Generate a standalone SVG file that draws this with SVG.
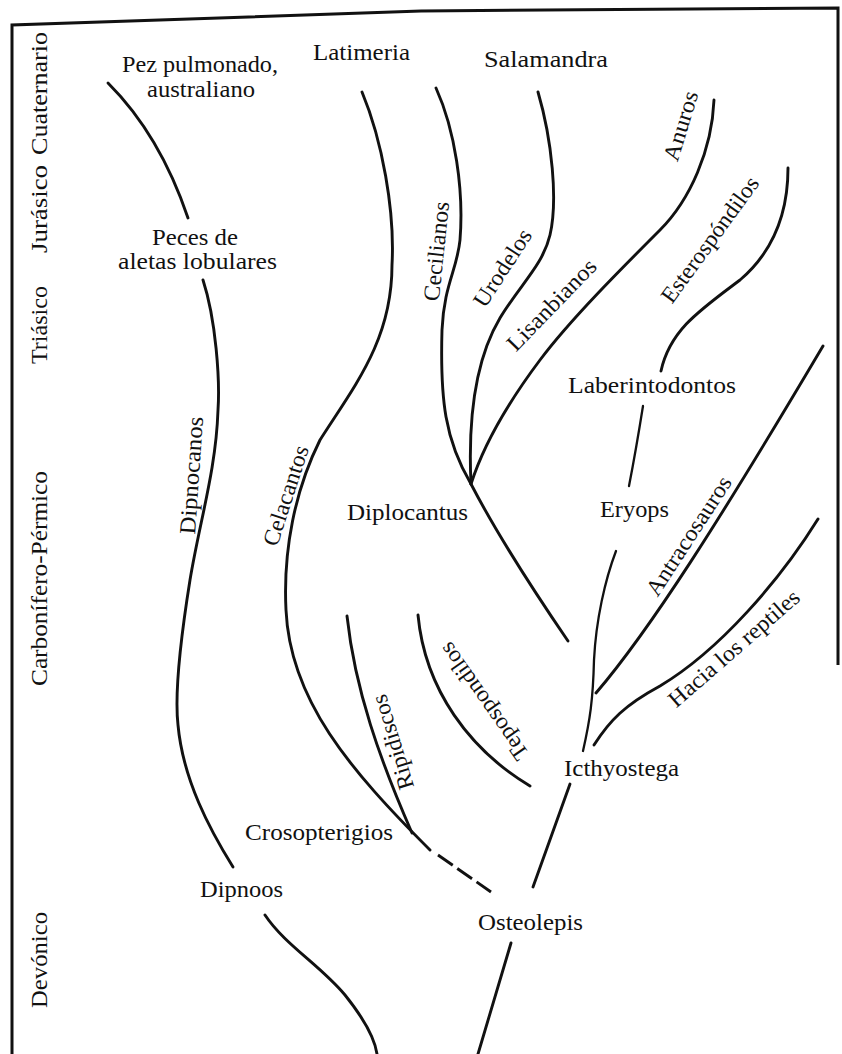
<svg xmlns="http://www.w3.org/2000/svg" width="842" height="1054" viewBox="0 0 842 1054">
  <style>
    .lbl { font-family: "Liberation Serif", "Times New Roman", serif; font-size: 23px; fill: #111; }
    .br { fill: none; stroke: #111; stroke-width: 2.9; stroke-linecap: round; }
    .thin { stroke-width: 2.3; }
    .dash { stroke-dasharray: 18 5.5; stroke-linecap: butt; }
    .frame { fill: none; stroke: #111; stroke-width: 3; stroke-linejoin: miter; }
  </style>
  <rect width="842" height="1054" fill="#ffffff"/>

  <!-- outer frame -->
  <path class="frame" d="M12,1054 L12,25 L421,11 L838,8 L838,665"/>

  <!-- geological periods along the left margin -->
  <g id="periods">
    <text class="lbl" transform="translate(47,93.5) rotate(-90)" text-anchor="middle" textLength="123" lengthAdjust="spacingAndGlyphs">Cuaternario</text>
    <text class="lbl" transform="translate(47,209) rotate(-90)" text-anchor="middle" textLength="88" lengthAdjust="spacingAndGlyphs">Jurásico</text>
    <text class="lbl" transform="translate(47,325) rotate(-90)" text-anchor="middle" textLength="78" lengthAdjust="spacingAndGlyphs">Triásico</text>
    <text class="lbl" transform="translate(47,578.5) rotate(-90)" text-anchor="middle" textLength="215" lengthAdjust="spacingAndGlyphs">Carbonífero-Pérmico</text>
    <text class="lbl" transform="translate(47,960) rotate(-90)" text-anchor="middle" textLength="96" lengthAdjust="spacingAndGlyphs">Devónico</text>
  </g>

  <!-- lineage branches -->
  <g id="connectors">
    <path id="c-pez" class="br" d="M108,83 Q160,135 188,218"/>
    <path id="c-dipnocanos" class="br" d="M203,280 C216,320 220,380 218,410 C216,470 200,520 190,580 C182,630 174,690 178,725 C183,780 210,830 233,867"/>
    <path id="c-dipnoos" class="br" d="M265,915 C285,945 320,965 345,995 C365,1020 375,1040 377,1054"/>
    <path id="c-celacantos" class="br" d="M362,92 C382,140 395,210 392,265 C392,340 355,385 320,440 C295,490 283,550 286,610 C290,700 350,770 430,850"/>
    <path id="c-crosop-dash" class="br dash" d="M438,855 L491,892"/>
    <path id="c-ripidiscos" class="br" d="M347,616 C355,690 380,760 412,833"/>
    <path id="c-tepospondilos" class="br" d="M418,615 C425,690 470,750 530,786"/>
    <path id="c-cecilianos" class="br" d="M436,88 C455,130 464,190 460,240 C457,270 444,285 442,330 C440,400 445,440 471,484 C500,540 540,600 568,641"/>
    <path id="c-urodelos" class="br" d="M538,92 C552,140 558,200 550,235 C543,265 520,285 500,318 C475,360 468,420 471,484"/>
    <path id="c-anuros" class="br" d="M714,100 C712,150 690,200 660,230 C620,270 570,320 540,360 C510,400 485,440 471,484"/>
    <path id="c-esterospondilos" class="br" d="M788,168 C788,210 775,250 740,280 C700,310 670,330 661,371"/>
    <path id="c-laberintodontos" class="br thin" d="M643,406 Q636,450 629,486"/>
    <path id="c-eryops" class="br thin" d="M616,551 C605,580 596,620 594,660 C593,700 590,720 583,751"/>
    <path id="c-antracosauros" class="br" d="M596,693 C650,630 720,520 823,346"/>
    <path id="c-reptiles" class="br" d="M594,745 C610,720 625,705 660,686 C720,650 780,580 818,519"/>
    <path id="c-osteolepis-up" class="br" d="M570,784 L533,887"/>
    <path id="c-osteolepis-down" class="br" d="M511,943 L478,1054"/>
  </g>

  <!-- named taxa -->
  <g id="n-pez">
    <text class="lbl" x="122" y="72" textLength="156" lengthAdjust="spacingAndGlyphs">Pez pulmonado,</text>
    <text class="lbl" x="147" y="97" textLength="108" lengthAdjust="spacingAndGlyphs">australiano</text>
  </g>
  <g id="n-latimeria"><text class="lbl" x="313" y="60" textLength="97" lengthAdjust="spacingAndGlyphs">Latimeria</text></g>
  <g id="n-salamandra"><text class="lbl" x="484" y="67" textLength="124" lengthAdjust="spacingAndGlyphs">Salamandra</text></g>
  <g id="n-peces">
    <text class="lbl" x="152" y="245" textLength="86" lengthAdjust="spacingAndGlyphs">Peces de</text>
    <text class="lbl" x="118" y="269" textLength="159" lengthAdjust="spacingAndGlyphs">aletas lobulares</text>
  </g>
  <g id="n-laberintodontos"><text class="lbl" x="568" y="393" textLength="168" lengthAdjust="spacingAndGlyphs">Laberintodontos</text></g>
  <g id="n-diplocantus"><text class="lbl" x="347" y="520" textLength="121" lengthAdjust="spacingAndGlyphs">Diplocantus</text></g>
  <g id="n-eryops"><text class="lbl" x="600" y="517" textLength="69" lengthAdjust="spacingAndGlyphs">Eryops</text></g>
  <g id="n-icthyostega"><text class="lbl" x="564" y="776" textLength="115" lengthAdjust="spacingAndGlyphs">Icthyostega</text></g>
  <g id="n-crosopterigios"><text class="lbl" x="245" y="840" textLength="148" lengthAdjust="spacingAndGlyphs">Crosopterigios</text></g>
  <g id="n-dipnoos"><text class="lbl" x="200" y="897" textLength="83" lengthAdjust="spacingAndGlyphs">Dipnoos</text></g>
  <g id="n-osteolepis"><text class="lbl" x="478" y="930" textLength="105" lengthAdjust="spacingAndGlyphs">Osteolepis</text></g>

  <!-- branch names set along the lines -->
  <g id="n-dipnocanos"><text class="lbl" transform="translate(199,476) rotate(-86)" text-anchor="middle" textLength="118" lengthAdjust="spacingAndGlyphs">Dipnocanos</text></g>
  <g id="n-celacantos"><text class="lbl" transform="translate(293,498) rotate(-72)" text-anchor="middle" textLength="104" lengthAdjust="spacingAndGlyphs">Celacantos</text></g>
  <g id="n-cecilianos"><text class="lbl" transform="translate(444,252) rotate(-84)" text-anchor="middle" textLength="100" lengthAdjust="spacingAndGlyphs">Cecilianos</text></g>
  <g id="n-urodelos"><text class="lbl" transform="translate(509,272) rotate(-57)" text-anchor="middle" textLength="88" lengthAdjust="spacingAndGlyphs">Urodelos</text></g>
  <g id="n-lisanbianos"><text class="lbl" transform="translate(557,310) rotate(-46)" text-anchor="middle" textLength="118" lengthAdjust="spacingAndGlyphs">Lisanbianos</text></g>
  <g id="n-anuros"><text class="lbl" transform="translate(688,128) rotate(-73)" text-anchor="middle" textLength="72" lengthAdjust="spacingAndGlyphs">Anuros</text></g>
  <g id="n-esterospondilos"><text class="lbl" transform="translate(716,244) rotate(-54)" text-anchor="middle" textLength="150" lengthAdjust="spacingAndGlyphs">Esterospóndilos</text></g>
  <g id="n-antracosauros"><text class="lbl" transform="translate(695,540) rotate(-57)" text-anchor="middle" textLength="138" lengthAdjust="spacingAndGlyphs">Antracosauros</text></g>
  <g id="n-reptiles"><text class="lbl" transform="translate(739,654) rotate(-41)" text-anchor="middle" textLength="166" lengthAdjust="spacingAndGlyphs">Hacia los reptiles</text></g>
  <g id="n-ripidiscos"><text class="lbl" transform="translate(400,740) rotate(-107)" text-anchor="middle" textLength="98" lengthAdjust="spacingAndGlyphs">Ripidiscos</text></g>
  <g id="n-tepospondilos"><text class="lbl" transform="translate(490,697) rotate(-125)" text-anchor="middle" textLength="138" lengthAdjust="spacingAndGlyphs">Tepospondilos</text></g>
</svg>
